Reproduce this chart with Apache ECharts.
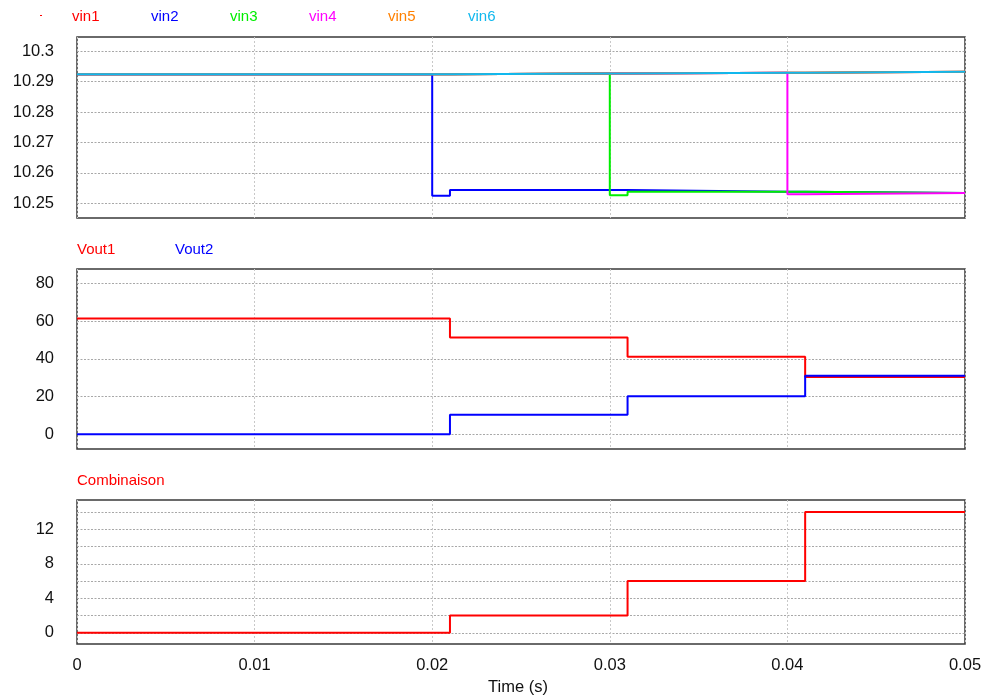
<!DOCTYPE html>
<html>
<head>
<meta charset="utf-8">
<script src="https://cdn.jsdelivr.net/npm/echarts@6/dist/echarts.min.js"></script>
<style>
html,body{margin:0;padding:0;background:#fff;}
#chart{width:986px;height:698px;}
</style>
</head>
<body>
<div id="chart"></div>
<script>
// ---- data ----
const vinTimes = [0, 0.02, 0.021, 0.03, 0.031, 0.04, 0.041, 0.05];
const vin1 = [10.2924, 10.2924, 10.2926, 10.2926, 10.2929, 10.2929, 10.2932, 10.2932];
const vin2 = [10.2924, 10.2525, 10.2544, 10.2544, 10.2538, 10.2538, 10.2534, 10.2534];
const vin3 = [10.2924, 10.2924, 10.2926, 10.2527, 10.2538, 10.2538, 10.2534, 10.2534];
const vin4 = [10.2924, 10.2924, 10.2926, 10.2926, 10.2929, 10.2530, 10.2534, 10.2534];
const vin5 = [10.2924, 10.2924, 10.2926, 10.2926, 10.2929, 10.2929, 10.2932, 10.2932];
const vin6 = [10.2924, 10.2924, 10.2926, 10.2926, 10.2929, 10.2929, 10.2932, 10.2932];

const outTimes = [0, 0.021, 0.031, 0.041, 0.05];
const vout1 = [61.4, 51.3, 41.1, 30.4, 30.4];
const vout2 = [0, 10.3, 20.2, 31.0, 31.0];
const combinaison = [0, 2, 6, 14, 14];

const xTicks = [0, 0.01, 0.02, 0.03, 0.04, 0.05];
const vinTicks = [10.25, 10.26, 10.27, 10.28, 10.29, 10.3];
const voutTicks = [0, 20, 40, 60, 80];
const combGrid = [0, 2, 4, 6, 8, 10, 12, 14];
const combLabels = [0, 4, 8, 12];

const vinNames = ['vin1', 'vin2', 'vin3', 'vin4', 'vin5', 'vin6'];
const vinColors = ['#ff0000', '#0000ff', '#00ee00', '#ff00ff', '#ff8000', '#10b8ee'];

// ---- chart ----
const chart = echarts.init(document.getElementById('chart'), null, {renderer: 'canvas'});
const FONT = 'Liberation Sans, Arial, sans-serif';
const pairs = (t, v) => t.map((x, i) => [x, v[i]]);

const grids = [
  {left: 77, top: 37, width: 888, height: 181},
  {left: 77, top: 269, width: 888, height: 180},
  {left: 77, top: 500, width: 888, height: 144}
].map(g => Object.assign(g, {show: true, borderColor: '#3a3a3a', borderWidth: 1.5, backgroundColor: '#fff', containLabel: false}));

function xAxis(idx, labels) {
  return {
    type: 'value', gridIndex: idx, min: 0, max: 0.05, interval: 0.01,
    axisLine: {show: false}, axisTick: {show: false},
    axisLabel: {show: labels, color: '#111', fontSize: 16.5, fontFamily: FONT, margin: 13,
      formatter: v => String(+v.toFixed(3))},
    splitLine: {show: true, lineStyle: {color: '#c8c8c8', type: [2, 2], width: 1}}
  };
}
function yAxis(idx, min, max, ticks, labels, fmt) {
  return {
    type: 'value', gridIndex: idx, min: min, max: max,
    axisLine: {show: false},
    axisTick: {show: false, customValues: ticks},
    axisLabel: {show: true, customValues: labels, color: '#111', fontSize: 16.5, fontFamily: FONT, margin: 23,
      formatter: fmt || (v => String(+(+v).toFixed(4)))},
    splitLine: {show: true, lineStyle: {color: '#a8a8a8', type: [2, 1.5], width: 1}}
  };
}

const series = [];
vinNames.forEach((n, i) => {
  const arr = [vin1, vin2, vin3, vin4, vin5, vin6][i];
  series.push({name: n, type: 'line', xAxisIndex: 0, yAxisIndex: 0, step: 'end', symbol: 'none',
    data: pairs(vinTimes, arr), lineStyle: {color: vinColors[i], width: 2}, animation: false, silent: true});
});
series.push({name: 'Vout1', type: 'line', xAxisIndex: 1, yAxisIndex: 1, step: 'end', symbol: 'none',
  data: pairs(outTimes, vout1), lineStyle: {color: '#ff0000', width: 2}, animation: false, silent: true});
series.push({name: 'Vout2', type: 'line', xAxisIndex: 1, yAxisIndex: 1, step: 'end', symbol: 'none',
  data: pairs(outTimes, vout2), lineStyle: {color: '#0000ff', width: 2}, animation: false, silent: true});
series.push({name: 'Combinaison', type: 'line', xAxisIndex: 2, yAxisIndex: 2, step: 'end', symbol: 'none',
  data: pairs(outTimes, combinaison), lineStyle: {color: '#ff0000', width: 2}, animation: false, silent: true});

const legendX = [72, 151, 230, 309, 388, 468];
const graphics = [
  {type: 'rect', left: 40, top: 15, shape: {width: 2, height: 1}, style: {fill: '#ff0000'}}
];
vinNames.forEach((n, i) => graphics.push({type: 'text', left: legendX[i], top: 9,
  style: {text: n, fill: vinColors[i], font: '15px ' + FONT}}));
graphics.push({type: 'text', left: 77, top: 242, style: {text: 'Vout1', fill: '#ff0000', font: '15px ' + FONT}});
graphics.push({type: 'text', left: 175, top: 242, style: {text: 'Vout2', fill: '#0000ff', font: '15px ' + FONT}});
graphics.push({type: 'text', left: 77, top: 473, style: {text: 'Combinaison', fill: '#ff0000', font: '15px ' + FONT}});
graphics.push({type: 'text', left: 488, top: 679, style: {text: 'Time (s)', fill: '#111', font: '16.5px ' + FONT}});

chart.setOption({
  backgroundColor: '#fff',
  animation: false,
  grid: grids,
  xAxis: [xAxis(0, false), xAxis(1, false), xAxis(2, true)],
  yAxis: [
    yAxis(0, 10.2452, 10.3046, vinTicks, vinTicks),
    yAxis(1, -7.8, 87.6, voutTicks, voutTicks, v => String(Math.round(v))),
    yAxis(2, -1.3, 15.4, combGrid, combLabels, v => String(Math.round(v)))
  ],
  series: series,
  graphic: graphics
});
</script>
</body>
</html>
